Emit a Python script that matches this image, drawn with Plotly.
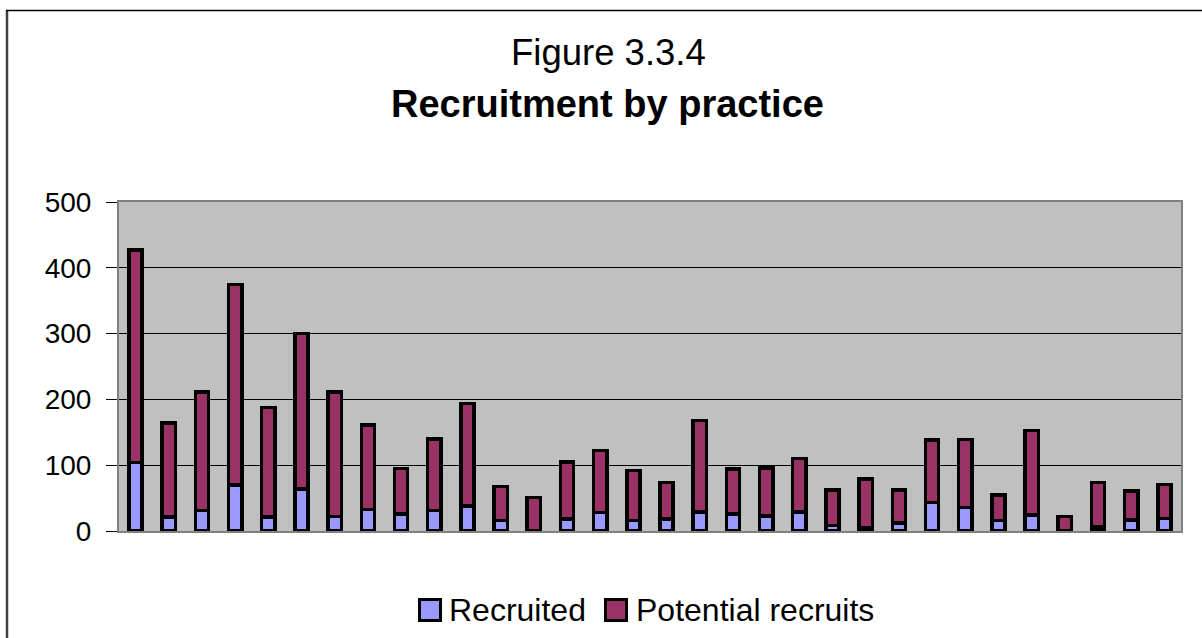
import plotly.graph_objects as go

# Stacked counts per practice
practices = [str(i) for i in range(1, 33)]
recruited = [104, 21, 31, 70, 21, 64, 22, 33, 26, 31, 38, 16, 0, 18, 28, 16,
             18, 29, 26, 23, 29, 8, 5, 12, 43, 36, 16, 24, 0, 6, 17, 19]
potential = [323, 143, 180, 305, 167, 236, 189, 128, 69, 109, 156, 52, 51, 87, 94, 76,
             56, 139, 68, 73, 81, 54, 74, 50, 95, 103, 39, 129, 22, 68, 44, 52]
y_ticks = [0, 100, 200, 300, 400, 500]
series_names = ["Recruited", "Potential recruits"]

W, H = 1202, 638
L, R, T, B = 119, 1181, 202, 531   # plot-area edges in pixels
FONT = "Liberation Sans, Arial, sans-serif"
COL_REC = "#9999FF"
COL_POT = "#993366"


def px(x):
    return (x - L) / (R - L)


def py(y):
    return (B - y) / (B - T)


fig = go.Figure()
fig.add_trace(go.Bar(x=practices, y=recruited, name=series_names[0],
                     marker=dict(color=COL_REC, line=dict(color="black", width=3.5))))
fig.add_trace(go.Bar(x=practices, y=potential, name=series_names[1],
                     marker=dict(color=COL_POT, line=dict(color="black", width=3.5))))

shapes = [
    # outer chart frame (left and top edges visible)
    dict(type="line", xref="paper", yref="paper", x0=px(7), x1=px(7), y0=py(10), y1=py(700),
         line=dict(color="#404040", width=2.5)),
    dict(type="line", xref="paper", yref="paper", x0=px(6), x1=px(1250), y0=py(10.5), y1=py(10.5),
         line=dict(color="black", width=1.5)),
]

annotations = [
    dict(text="Figure 3.3.4", xref="paper", yref="paper", x=px(608), y=py(52),
         xanchor="center", yanchor="middle", showarrow=False,
         font=dict(family=FONT, size=36.5, color="black")),
    dict(text="<b>Recruitment by practice</b>", xref="paper", yref="paper", x=px(607), y=py(104),
         xanchor="center", yanchor="middle", showarrow=False,
         font=dict(family=FONT, size=38, color="black")),
]

# legend swatches and labels
legend_items = [(418, 450, COL_REC), (604, 637, COL_POT)]
for (sx, tx, col), name in zip(legend_items, series_names):
    shapes.append(dict(type="rect", xref="paper", yref="paper",
                       x0=px(sx + 1.5), x1=px(sx + 22.5), y0=py(599.5), y1=py(620.5),
                       fillcolor=col, line=dict(color="black", width=3)))
    annotations.append(dict(text=name, xref="paper", yref="paper", x=px(tx - 3), y=py(610),
                            xanchor="left", yanchor="middle", showarrow=False,
                            font=dict(family=FONT, size=32, color="black")))

fig.update_layout(
    width=W, height=H,
    margin=dict(l=L, r=W - R, t=T, b=H - B, pad=0),
    barmode="stack", bargap=0.6,
    plot_bgcolor="#C0C0C0", paper_bgcolor="white",
    showlegend=False,
    shapes=shapes, annotations=annotations,
    font=dict(family=FONT, size=28, color="black"),
)
fig.update_xaxes(showticklabels=False, ticks="", showgrid=False,
                 showline=True, linecolor="#808080", linewidth=2, mirror=True)
fig.update_yaxes(range=[0, 500], tickvals=y_ticks, ticks="outside", ticklen=11,
                 tickcolor="black", tickwidth=1, showgrid=True, gridcolor="black",
                 gridwidth=1, showline=True, linecolor="#808080", linewidth=2,
                 mirror=True, zeroline=False, tickfont=dict(size=28), ticklabelstandoff=9)

fig.write_html("out.html")
